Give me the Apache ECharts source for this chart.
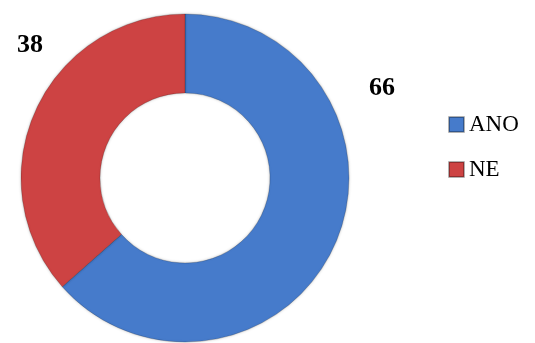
<!DOCTYPE html>
<html>
<head>
<meta charset="utf-8">
<script src="https://cdn.jsdelivr.net/npm/echarts@6/dist/echarts.min.js"></script>
<style>
  html, body { margin: 0; padding: 0; background: #fff; }
  #chart { width: 535px; height: 343px; }
</style>
</head>
<body>
<div id="chart"></div>
<script>
    var categories = ['ANO', 'NE'];
    var values = [66, 38];
    var colors = ['#467bcb', '#cd4343'];

    // where each value label sits (px)
    var labelPos = [[382, 88], [30, 45]];

    var myChart = echarts.init(document.getElementById('chart'));

    var option = {
        animation: false,
        legend: {
            orient: 'vertical',
            left: 443,
            top: 108,
            icon: 'rect',
            itemWidth: 15,
            itemHeight: 15,
            itemGap: 22,
            textStyle: {
                fontFamily: 'Liberation Serif',
                fontSize: 23,
                color: '#000'
            },
            data: categories
        },
        color: colors,
        series: [
            {
                type: 'pie',
                center: [185, 178],
                radius: [85, 164],
                startAngle: 90,
                clockwise: true,
                avoidLabelOverlap: false,
                data: categories.map(function (name, i) {
                    return {name: name, value: values[i]};
                }),
                itemStyle: {
                    borderColor: 'rgba(0,0,0,0.3)',
                    borderWidth: 0.6,
                    shadowColor: 'rgba(0,0,0,0.25)',
                    shadowBlur: 3
                },
                label: {
                    show: true,
                    position: 'outside',
                    formatter: '{c}',
                    fontFamily: 'Liberation Serif',
                    fontWeight: 'bold',
                    fontSize: 26,
                    color: '#000'
                },
                labelLine: { show: false },
                labelLayout: function (params) {
                    var p = labelPos[params.dataIndex];
                    return { x: p[0], y: p[1], align: 'center', verticalAlign: 'middle', hideOverlap: false };
                },
                emphasis: { disabled: true }
            }
        ]
    };

    myChart.setOption(option);
</script>
</body>
</html>
